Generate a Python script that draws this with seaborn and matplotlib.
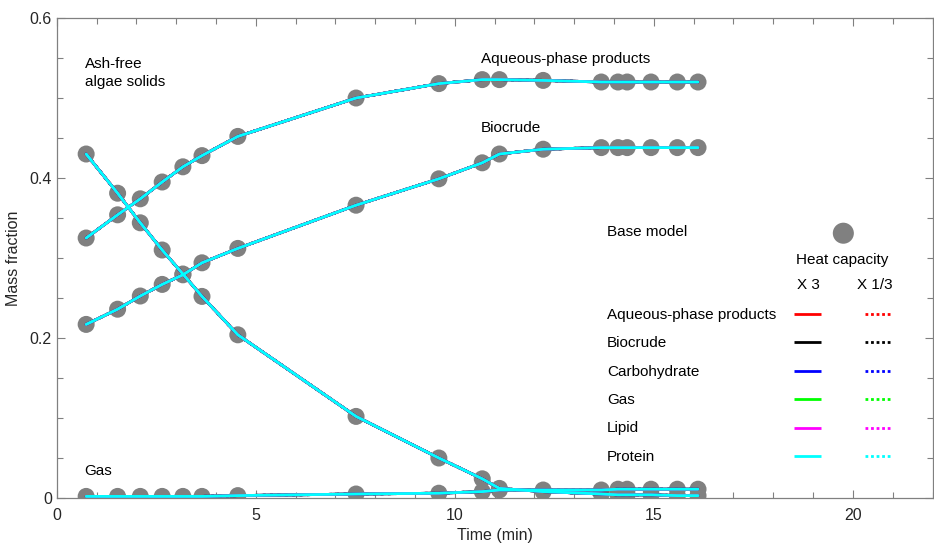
import numpy as np
import pandas as pd
import matplotlib
matplotlib.use("Agg")
import matplotlib.pyplot as plt
import seaborn as sns
from matplotlib.ticker import MultipleLocator, FuncFormatter

# Reaction time (min) and mass fractions of each product
time_min = [0.74, 1.53, 2.10, 2.65, 3.17, 3.65, 4.55, 7.52, 9.60, 10.69,
            11.12, 12.22, 13.68, 14.10, 14.33, 14.93, 15.59, 16.11]
algae_solids = [0.430, 0.381, 0.344, 0.310, 0.280, 0.252, 0.204, 0.102, 0.050, 0.024,
                0.012, 0.008, 0.005, 0.004, 0.004, 0.004, 0.003, 0.003]
aqueous = [0.325, 0.354, 0.374, 0.395, 0.414, 0.428, 0.452, 0.500, 0.518, 0.523,
           0.523, 0.522, 0.520, 0.520, 0.520, 0.520, 0.520, 0.520]
biocrude = [0.217, 0.236, 0.2525, 0.267, 0.279, 0.294, 0.312, 0.366, 0.399, 0.419,
            0.430, 0.436, 0.438, 0.438, 0.438, 0.438, 0.438, 0.438]
gas = [0.002, 0.002, 0.002, 0.002, 0.002, 0.002, 0.003, 0.005, 0.006, 0.008,
       0.010, 0.010, 0.010, 0.011, 0.011, 0.011, 0.011, 0.011]

products = {"Ash-free algae solids": algae_solids,
            "Aqueous-phase products": aqueous,
            "Biocrude": biocrude,
            "Gas": gas}

legend_names = ["Aqueous-phase products", "Biocrude", "Carbohydrate", "Gas", "Lipid", "Protein"]
legend_colors = ["#ff0000", "#000000", "#0000ff", "#00ff00", "#ff00ff", "#00ffff"]

df = pd.concat(
    [pd.DataFrame({"time": time_min, "fraction": v, "product": k}) for k, v in products.items()],
    ignore_index=True)

sns.set_style("ticks")
plt.rcParams["font.family"] = ["Liberation Sans", "DejaVu Sans"]
plt.rcParams["font.size"] = 11

text_color = "#262626"
axis_color = "#808080"
marker_color = "#808080"
fs = 11

fig = plt.figure(figsize=(9.34, 5.56), dpi=100)
ax = fig.add_axes([0.0607, 0.1043, 0.9377, 0.8633])

# Base model points
sns.scatterplot(data=df, x="time", y="fraction", color=marker_color, s=150,
                edgecolor="none", linewidth=0, legend=False, ax=ax, zorder=2)

# Model curves for heat capacity x 1/3 (dotted) and x 3 (solid)
for ls in [":", "-"]:
    for c in legend_colors:
        sns.lineplot(data=df, x="time", y="fraction", units="product", estimator=None,
                     color=c, linestyle=ls, linewidth=2, legend=False, ax=ax, zorder=3)

ax.set_xlim(0, 22)
ax.set_ylim(0, 0.6)
ax.xaxis.set_major_locator(MultipleLocator(5))
ax.xaxis.set_minor_locator(MultipleLocator(1))
ax.yaxis.set_major_locator(MultipleLocator(0.2))
ax.yaxis.set_minor_locator(MultipleLocator(0.05))
ax.yaxis.set_major_formatter(FuncFormatter(lambda v, p: "0" if v == 0 else f"{v:.1f}"))
ax.tick_params(which="both", direction="in", top=True, right=True,
               color=axis_color, labelcolor=text_color, labelsize=11.5)
ax.tick_params(which="major", length=6, width=0.8)
ax.tick_params(which="minor", length=4, width=0.8)
ax.tick_params(axis="x", which="major", pad=7)
for sp in ax.spines.values():
    sp.set_color(axis_color)
    sp.set_linewidth(0.9)
    sp.set_visible(True)

ax.set_xlabel("Time (min)", color=text_color, fontsize=11.5, labelpad=4)
ax.set_ylabel("Mass fraction", color=text_color, fontsize=11.5, labelpad=6)

# Curve annotations
ax.text(0.70, 0.531, "Ash-free\nalgae solids", color="black", fontsize=fs,
        ha="left", va="center", linespacing=1.35)
ax.text(10.65, 0.549, "Aqueous-phase products", color="black", fontsize=fs, ha="left", va="center")
ax.text(10.65, 0.462, "Biocrude", color="black", fontsize=fs, ha="left", va="center")
ax.text(0.70, 0.034, "Gas", color="black", fontsize=fs, ha="left", va="center")

# Legend block
ax.text(13.82, 0.332, "Base model", color="black", fontsize=fs, ha="left", va="center")
ax.scatter([19.76], [0.331], s=230, color=marker_color, edgecolor="none", zorder=4)
ax.text(19.73, 0.298, "Heat capacity", color="black", fontsize=fs, ha="center", va="center")
ax.text(18.88, 0.2665, "X 3", color="black", fontsize=fs, ha="center", va="center")
ax.text(20.56, 0.2665, "X 1/3", color="black", fontsize=fs, ha="center", va="center")
row_y0, row_step = 0.229, 0.0355
for i, (name, c) in enumerate(zip(legend_names, legend_colors)):
    yy = row_y0 - i * row_step
    ax.text(13.82, yy, name, color="black", fontsize=fs, ha="left", va="center")
    ax.plot([18.53, 19.2], [yy + 0.001, yy + 0.001], color=c, linestyle="-", linewidth=2,
            solid_capstyle="butt")
    ax.plot([20.31, 20.94], [yy + 0.001, yy + 0.001], color=c, linestyle=(0, (1, 1)),
            linewidth=2, dash_capstyle="butt")

fig.savefig("out.png", dpi=100)
